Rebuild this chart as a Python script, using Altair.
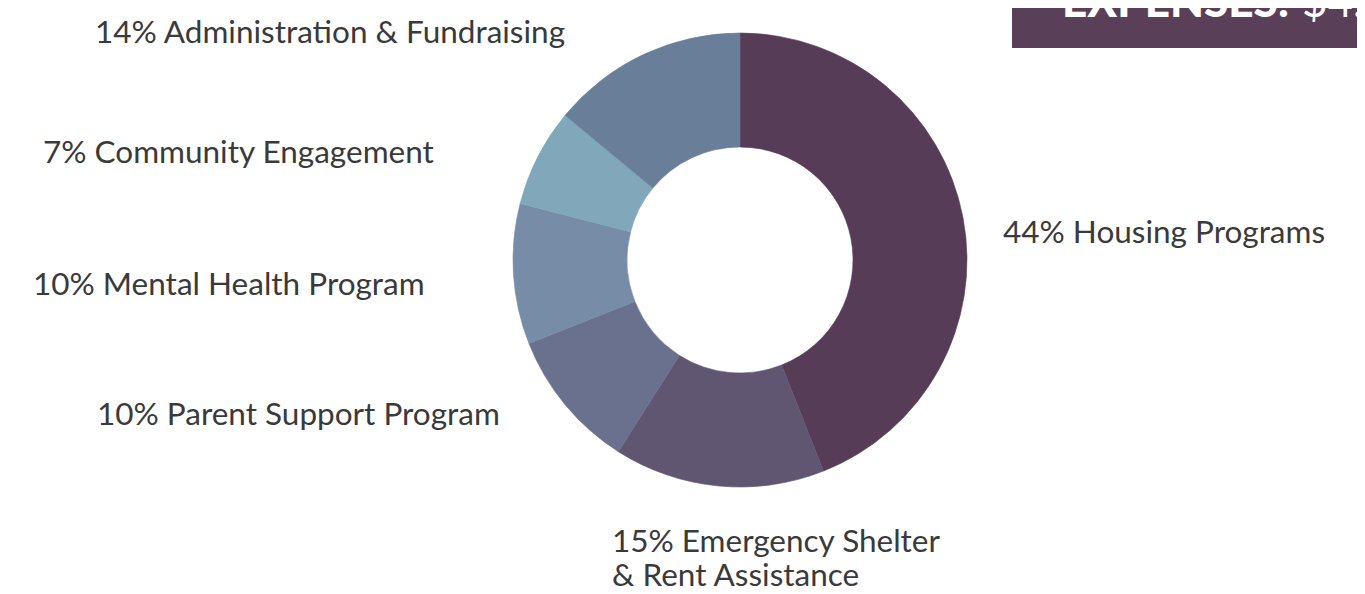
import altair as alt
import pandas as pd

# ---- data ----
categories = [
    "Housing Programs",
    "Emergency Shelter & Rent Assistance",
    "Parent Support Program",
    "Mental Health Program",
    "Community Engagement",
    "Administration & Fundraising",
]
percents = [44, 15, 10, 10, 7, 14]
label_lines = [
    ["44% Housing Programs"],
    ["15% Emergency Shelter", "& Rent Assistance"],
    ["10% Parent Support Program"],
    ["10% Mental Health Program"],
    ["7% Community Engagement"],
    ["14% Administration & Fundraising"],
]
title_bold = "EXPENSES:"
title_rest = "$4.0"

# ---- styles / layout ----
colors = ["#573C57", "#615672", "#6A718E", "#778CA7", "#80A7BA", "#687E99"]
OFF = 8  # page margin
cx, cy = 740 - OFF, 260 - OFF
label_pos = [  # left x, first baseline (page coords)
    (1003, 243),
    (612, 552),
    (97, 425),
    (33, 295),
    (43, 163),
    (95, 43),
]
LINE_H = 34
FONT = "Lato"
FSIZE = 31.5
TXT = "#3a3a3a"

df = pd.DataFrame({"cat": categories, "pct": percents, "idx": list(range(len(categories)))})

cscale = alt.Scale(domain=categories, range=colors)
arc = alt.Chart(df).mark_arc(outerRadius=227, innerRadius=113, strokeWidth=0.6).encode(
    theta=alt.Theta("pct:Q", stack=True),
    order=alt.Order("idx:Q"),
    color=alt.Color("cat:N", scale=cscale, legend=None),
    stroke=alt.Color("cat:N", scale=cscale, legend=None),
    x=alt.value(cx),
    y=alt.value(cy),
)

layers = [arc]
for lines, (lx, ly) in zip(label_lines, label_pos):
    for k, line in enumerate(lines):
        ldf = pd.DataFrame({"t": [line]})
        t = alt.Chart(ldf).mark_text(
            align="left", baseline="alphabetic", font=FONT, fontSize=FSIZE, color=TXT,
        ).encode(
            text="t:N",
            x=alt.value(lx - OFF),
            y=alt.value(ly - OFF + k * LINE_H),
        )
        layers.append(t)

box_df = pd.DataFrame({"a": [title_bold], "b": [title_rest]})
box = alt.Chart(box_df).mark_rect(color="#5A3F58").encode(
    x=alt.value(1012 - OFF), x2=alt.value(1365 - OFF),
    y=alt.value(0), y2=alt.value(48 - OFF),
)
tb = alt.Chart(box_df).mark_text(
    align="left", baseline="alphabetic", font=FONT, fontSize=44, fontWeight=900, color="white"
).encode(text="a:N", x=alt.value(1062 - OFF), y=alt.value(17 - OFF))
tr = alt.Chart(box_df).mark_text(
    align="left", baseline="alphabetic", font=FONT, fontSize=44, fontWeight=400, color="white"
).encode(text="b:N", x=alt.value(1302 - OFF), y=alt.value(17 - OFF))
layers += [box, tb, tr]

chart = alt.layer(*layers).properties(
    width=1349, height=578, padding=0, autosize="none"
).configure_view(stroke=None)

chart.save("out.html", embed_options={"renderer": "svg", "actions": False})
